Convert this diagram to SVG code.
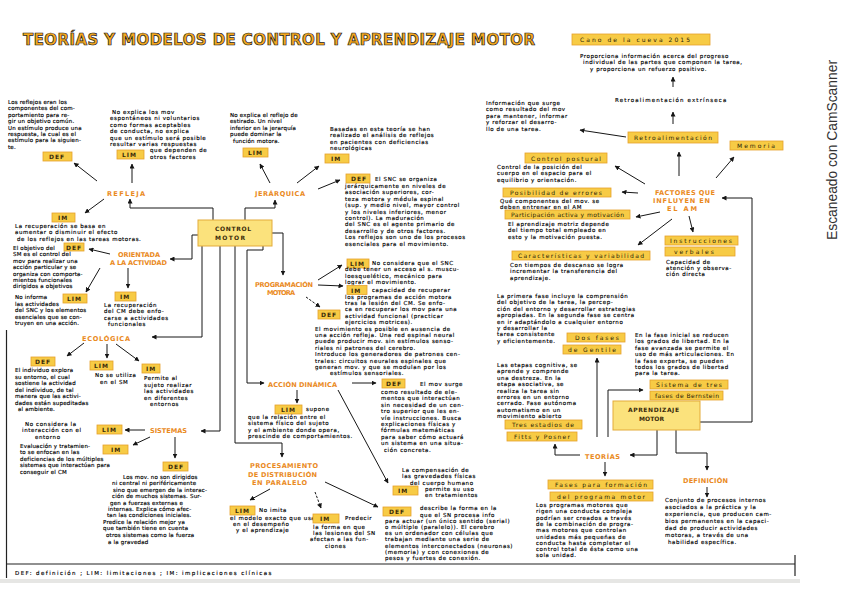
<svg xmlns="http://www.w3.org/2000/svg" width="848" height="599" viewBox="0 0 848 599">
<defs>
<style>
.t{font-family:"DejaVu Sans","Liberation Sans",sans-serif;font-size:5.5px;fill:#000;stroke:#000;stroke-width:0.15px;letter-spacing:0.6px}
.n{letter-spacing:0.2px}
.o{font-family:"DejaVu Sans","Liberation Sans",sans-serif;font-size:6.6px;font-weight:bold;fill:#ea8a1d}
.bx{fill:#f7cb45;stroke:#e5a12c;stroke-width:0.8}
.big{fill:#fbe27c;stroke:#e3ab3a;stroke-width:1}
.bl{font-family:"DejaVu Sans","Liberation Sans",sans-serif;font-size:6px;font-weight:bold;fill:#3a2a0a;letter-spacing:1px}
.bh{font-family:"DejaVu Sans","Liberation Sans",sans-serif;font-size:6px;fill:#2a1e08}
.c{stroke:#161616;stroke-width:1;fill:none;marker-end:url(#ah)}
.d{stroke-dasharray:2.5 1.5}
.fr{stroke:#222;stroke-width:1.2;fill:none}
</style>
<marker id="ah" markerWidth="5" markerHeight="5" refX="4.5" refY="2.5" orient="auto" markerUnits="userSpaceOnUse"><path d="M0,0 L5,2.5 L0,5 z" fill="#161616"/></marker>
</defs>
<rect x="0" y="0" width="848" height="599" fill="#ffffff"/>

<g id="frame">
<path class="fr" d="M6.5,330 V578"/>
<path class="fr" d="M7,564 H795"/>
<path class="fr" d="M795,555 V576"/>
<rect x="0" y="579" width="800" height="4" fill="#e6e6e4"/>
</g>

<g id="title"><text x="23" y="45" textLength="512" lengthAdjust="spacing" font-family="DejaVu Sans, Liberation Sans, sans-serif" font-size="15" font-weight="bold" fill="#f4a81f" stroke="#1a1a1a" stroke-width="0.7">TEORÍAS Y MODELOS DE CONTROL Y APRENDIZAJE MOTOR</text></g>

<g id="scanner"><text transform="translate(837,240) rotate(-90)" textLength="180" lengthAdjust="spacingAndGlyphs" font-family="Liberation Sans, Arial, sans-serif" font-size="14.5" fill="#333">Escaneado con CamScanner</text></g>

<g id="cano"><rect class="bx" x="572" y="34" width="138" height="11"/><text class="bh" x="580" y="42" textLength="110">Cano de la cueva 2015</text></g>

<g id="connectors">
<path class="c" d="M673,87 V77"/>
<path class="c" d="M673,124 V112"/>
<path class="c" d="M626,137 L580,130"/>
<path class="c" d="M679,176 V152"/>
<path class="c" d="M716,178 L734,157"/>
<path class="c" d="M645,184 L615,166"/>
<path class="c" d="M638,193 L622,192"/>
<path class="c" d="M660,212 L636,217"/>
<path class="c" d="M672,219 L638,245"/>
<path class="c" d="M689,216 L693,232"/>
<path class="c" d="M700,422 H752 V198 H722"/>
<path class="c" d="M657,430 V455 H630"/>
<path class="c" d="M676,430 V453 H707 V470"/>
<path class="c" d="M580,455 H555 V444"/>
<path class="c" d="M597,437 V358"/>
<path class="c" d="M608,437 V390 H643"/>
<path class="c" d="M605,462 V476"/>
<path class="c" d="M707,487 V497"/>

<path class="c" d="M213,220 V208 H130 V199"/>
<path class="c" d="M245,220 V208 H275 V200"/>
<path class="c" d="M198,235 H192 V259 H170"/>
<path class="c" d="M202,246 V337 H152"/>
<path class="c" d="M220,246 V431 H201"/>
<path class="c" d="M235,246 V443 H282 V457"/>
<path class="c" d="M263,246 V250 H247 V383 H264"/>
<path class="c" d="M272,233 H283 V275"/>

<path class="c" d="M97,181 L74,163"/>
<path class="c" d="M132,183 V164"/>
<path class="c" d="M104,199 L85,213"/>
<path class="c" d="M270,183 L260,164"/>
<path class="c" d="M297,183 L319,166"/>
<path class="c" d="M318,189 L340,180"/>
<path class="c" d="M110,254 L89,249"/>
<path class="c" d="M100,268 L86,292"/>
<path class="c" d="M128,268 V288"/>
<path class="c" d="M84,343 L67,356"/>
<path class="c" d="M107,344 V358"/>
<path class="c" d="M116,344 L139,361"/>
<path class="c" d="M145,430 H125"/>
<path class="c" d="M150,437 L133,445"/>
<path class="c" d="M175,437 V458"/>
<path class="c" d="M318,280 L342,265"/>
<path class="c" d="M318,285 L343,286"/>
<path class="c d" d="M306,297 L320,307"/>
<path class="c" d="M352,383 L376,383"/>
<path class="c" d="M297,390 V403"/>
<path class="c" d="M338,390 L388,483"/>
<path class="c" d="M270,489 L250,500"/>
<path class="c d" d="M315,492 L321,508"/>
<path class="c" d="M325,482 L378,507"/>
</g>

<g id="n-retro-desc"><text class="t"><tspan x="580" y="58">Proporciona información acerca del progreso</tspan><tspan x="583" y="64.4">individual de las partes que componen la tarea,</tspan><tspan x="590" y="70.8">y proporciona un refuerzo positivo.</tspan></text></g>
<g id="n-retro-ext"><text class="t" x="615" y="102" textLength="112">Retroalimentación extrínseca</text></g>
<g id="n-retro"><rect class="bx" x="628" y="132" width="90" height="11"/><text class="bh" x="634" y="140" textLength="78">Retroalimentación</text></g>
<g id="n-memoria"><rect class="bx" x="730" y="141" width="53" height="9"/><text class="bh" x="737" y="148" textLength="38">Memoria</text></g>
<g id="n-info"><text class="t"><tspan x="486" y="105">Información que surge</tspan><tspan x="486" y="111.4">como resultado del mov</tspan><tspan x="486" y="117.8">para mantener, informar</tspan><tspan x="486" y="124.2">y reforzar el desarro-</tspan><tspan x="486" y="130.6">llo de una tarea.</tspan></text></g>
<g id="n-factores"><text class="o" x="655" y="195" textLength="60">FACTORES QUE</text><text class="o" x="653" y="203" textLength="57">INFLUYEN EN</text><text class="o" x="667" y="211" textLength="30">EL AM</text></g>
<g id="n-postural"><rect class="bx" x="525" y="153" width="82" height="10"/><text class="bh" x="531" y="160.5" textLength="70">Control postural</text>
<text class="t"><tspan x="497" y="169">Control de la posición del</tspan><tspan x="497" y="175.4">cuerpo en el espacio para el</tspan><tspan x="497" y="181.8">equilibrio y orientación.</tspan></text></g>
<g id="n-errores"><rect class="bx" x="503" y="188" width="108" height="9"/><text class="bh" x="510" y="195" textLength="92">Posibilidad de errores</text>
<text class="t"><tspan x="500" y="203">Qué componentes del mov. se</tspan><tspan x="500" y="209">deben entrenar en el AM</tspan></text></g>
<g id="n-participacion"><rect class="bx" x="505" y="210" width="125" height="9"/><text class="bh" x="511" y="217" textLength="113">Participación activa y motivación</text>
<text class="t"><tspan x="508" y="226">El aprendizaje motriz depende</tspan><tspan x="508" y="232.4">del tiempo total empleado en</tspan><tspan x="508" y="238.8">esto y la motivación puesta.</tspan></text></g>
<g id="n-caracteristicas"><rect class="bx" x="512" y="251" width="138" height="9"/><text class="bh" x="518" y="258" textLength="126">Características y variabilidad</text>
<text class="t"><tspan x="510" y="267">Con tiempos de descanso se logra</tspan><tspan x="510" y="273.4">incrementar la transferencia del</tspan><tspan x="510" y="279.8">aprendizaje.</tspan></text></g>
<g id="n-instrucciones"><rect class="bx" x="665" y="236" width="73" height="9"/><text class="bh" x="670" y="243" textLength="62">Instrucciones</text><rect class="bx" x="665" y="247" width="70" height="9"/><text class="bh" x="674" y="254" textLength="40">verbales</text>
<text class="t"><tspan x="666" y="263.5">Capacidad de</tspan><tspan x="666" y="269.9">atención y observa-</tspan><tspan x="666" y="276.3">ción directa</tspan></text></g>

<g id="n-gentile"><text class="t"><tspan x="497" y="298">La primera fase incluye la comprensión</tspan><tspan x="497" y="304.4">del objetivo de la tarea, la percep-</tspan><tspan x="497" y="310.8">ción del entorno y desarrollar estrategias</tspan><tspan x="497" y="317.2">apropiadas. En la segunda fase se centra</tspan><tspan x="497" y="323.6">en ir adaptándolo a cualquier entorno</tspan><tspan x="497" y="330">y desarrollar la</tspan><tspan x="497" y="336.4">tarea consistente</tspan><tspan x="497" y="342.8">y eficientemente.</tspan></text>
<rect class="bx" x="567" y="333" width="58" height="9"/><text class="bh" x="575" y="340" textLength="44">Dos fases</text>
<rect class="bx" x="563" y="345" width="58" height="9"/><text class="bh" x="568" y="352" textLength="48">de Gentile</text></g>

<g id="n-bernstein"><text class="t"><tspan x="635" y="337">En la fase inicial se reducen</tspan><tspan x="635" y="343.4">los grados de libertad. En la</tspan><tspan x="635" y="349.8">fase avanzada se permite el</tspan><tspan x="635" y="356.2">uso de más articulaciones. En</tspan><tspan x="635" y="362.6">la fase experta, se pueden</tspan><tspan x="635" y="369">todos los grados de libertad</tspan><tspan x="635" y="375.4">para la tarea.</tspan></text>
<rect class="bx" x="650" y="380" width="78" height="9"/><text class="bh" x="656" y="387" textLength="66">Sistema de tres</text>
<rect class="bx" x="650" y="391" width="73" height="9"/><text class="bh" x="655" y="398" textLength="64">fases de Bernstein</text></g>

<g id="n-fitts"><text class="t"><tspan x="497" y="367">Las etapas cognitiva, se</tspan><tspan x="497" y="373.4">aprende y comprende</tspan><tspan x="497" y="379.8">una destreza. En la</tspan><tspan x="497" y="386.2">etapa asociativa, se</tspan><tspan x="497" y="392.6">realiza la tarea sin</tspan><tspan x="497" y="399">errores en un entorno</tspan><tspan x="497" y="405.4">cerrado. Fase autónoma</tspan><tspan x="497" y="411.8">automatismo en un</tspan><tspan x="497" y="418.2">movimiento abierto</tspan></text>
<rect class="bx" x="505" y="420" width="77" height="9"/><text class="bh" x="512" y="427" textLength="62">Tres estadios de</text>
<rect class="bx" x="507" y="432" width="70" height="9"/><text class="bh" x="514" y="439" textLength="56">Fitts y Posner</text></g>

<g id="n-teorias"><text class="o" x="585" y="458.5" textLength="35">TEORÍAS</text></g>
<g id="n-fases-programa"><rect class="bx" x="548" y="480" width="105" height="9"/><text class="bh" x="555" y="487" textLength="92">Fases para formación</text>
<rect class="bx" x="550" y="492" width="103" height="9"/><text class="bh" x="557" y="499" textLength="88">del programa motor</text>
<text class="t"><tspan x="536" y="507">Los programas motores que</tspan><tspan x="536" y="513.3">rigen una conducta compleja</tspan><tspan x="536" y="519.6">podrían ser creados a través</tspan><tspan x="536" y="525.9">de la combinación de progra-</tspan><tspan x="536" y="532.2">mas motores que controlan</tspan><tspan x="536" y="538.5">unidades más pequeñas de</tspan><tspan x="536" y="544.8">conducta hasta completar el</tspan><tspan x="536" y="551.1">control total de ésta como una</tspan><tspan x="536" y="557.4">sola unidad.</tspan></text></g>
<g id="n-definicion"><text class="o" x="683" y="482.5" textLength="45">DEFINICIÓN</text>
<text class="t"><tspan x="665" y="502">Conjunto de procesos internos</tspan><tspan x="665" y="509">asociados a la práctica y la</tspan><tspan x="665" y="516">experiencia, que producen cam-</tspan><tspan x="665" y="523">bios permanentes en la capaci-</tspan><tspan x="665" y="530">dad de producir actividades</tspan><tspan x="665" y="537">motoras, a través de una</tspan><tspan x="668" y="544">habilidad específica.</tspan></text></g>
<g id="n-aprendizaje"><rect class="big" x="613" y="401" width="87" height="29"/><text class="bl" x="628" y="412" textLength="52">APRENDIZAJE</text><text class="bl" x="639" y="421" textLength="26">MOTOR</text></g>

<g id="n-control"><rect class="big" x="198" y="220" width="74" height="26"/><text class="bl" x="215" y="231" textLength="37">CONTROL</text><text class="bl" x="215" y="240" textLength="31">MOTOR</text></g>

<g id="n-refleja"><text class="o" x="107" y="195.5" textLength="38">REFLEJA</text></g>
<g id="n-refleja-def"><text class="t n"><tspan x="8" y="104">Los reflejos eran los</tspan><tspan x="8" y="110.4">componentes del com-</tspan><tspan x="8" y="116.8">portamiento para re-</tspan><tspan x="8" y="123.2">gir un objetivo común.</tspan><tspan x="8" y="129.6">Un estímulo produce una</tspan><tspan x="8" y="136">respuesta, la cual es el</tspan><tspan x="8" y="142.4">estímulo para la siguien-</tspan><tspan x="8" y="148.8">te.</tspan></text>
<rect class="bx" x="43" y="152" width="29" height="9"/><text class="bl" x="49" y="159">DEF</text></g>
<g id="n-refleja-lim"><rect class="bx" x="117" y="150" width="27" height="9"/><text class="bl" x="122" y="157">LIM</text>
<text class="t"><tspan x="112" y="114">No explica los mov</tspan><tspan x="110" y="120.4">espontáneos ni voluntarios</tspan><tspan x="110" y="126.8">como formas aceptables</tspan><tspan x="110" y="133.2">de conducta, no explica</tspan><tspan x="110" y="139.6">que un estímulo será posible</tspan><tspan x="110" y="146">resultar varias respuestas</tspan><tspan x="150" y="152.4">que dependen de</tspan><tspan x="150" y="158.8">otros factores</tspan></text></g>
<g id="n-refleja-im"><rect class="bx" x="52" y="213" width="23" height="9"/><text class="bl" x="58" y="220">IM</text>
<text class="t"><tspan x="15" y="227.5">La recuperación se basa en</tspan><tspan x="15" y="234">aumentar o disminuir el efecto</tspan><tspan x="17" y="240.5">de los reflejos en las tareas motoras.</tspan></text></g>

<g id="n-orientada"><text class="o" x="118" y="256.5" textLength="42">ORIENTADA</text><text class="o" x="110" y="264.5" textLength="57">A LA ACTIVIDAD</text></g>
<g id="n-orientada-def"><rect class="bx" x="64" y="243" width="20" height="8"/><text class="bl" x="66" y="249.5" textLength="16">DEF</text>
<text class="t n"><tspan x="13" y="250">El objetivo del</tspan><tspan x="13" y="256.4">SM es el control del</tspan><tspan x="13" y="262.8">mov para realizar una</tspan><tspan x="13" y="269.2">acción particular y se</tspan><tspan x="13" y="275.6">organiza con comporta-</tspan><tspan x="13" y="282">mientos funcionales</tspan><tspan x="13" y="288.4">dirigidos a objetivos</tspan></text></g>
<g id="n-orientada-lim"><rect class="bx" x="63" y="294" width="24" height="9"/><text class="bl" x="67" y="301">LIM</text>
<text class="t n"><tspan x="15" y="299">No informa</tspan><tspan x="15" y="305.5">las actividades</tspan><tspan x="15" y="312">del SNC y los elementos</tspan><tspan x="15" y="318.5">esenciales que se con-</tspan><tspan x="15" y="325">truyen en una acción.</tspan></text></g>
<g id="n-orientada-im"><rect class="bx" x="115" y="292" width="21" height="9"/><text class="bl" x="120" y="299">IM</text>
<text class="t"><tspan x="104" y="307">La recuperación</tspan><tspan x="104" y="313.4">del CM debe enfo-</tspan><tspan x="104" y="319.8">carse a actividades</tspan><tspan x="108" y="326.2">funcionales</tspan></text></g>

<g id="n-ecologica"><text class="o" x="82" y="340.5" textLength="48">ECOLÓGICA</text></g>
<g id="n-ecologica-def"><rect class="bx" x="31" y="357" width="24" height="9"/><text class="bl" x="35" y="364">DEF</text>
<text class="t n"><tspan x="15" y="372">El individuo explora</tspan><tspan x="15" y="378.5">su entorno, el cual</tspan><tspan x="15" y="385">sostiene la actividad</tspan><tspan x="15" y="391.5">del individuo, de tal</tspan><tspan x="15" y="398">manera que las activi-</tspan><tspan x="15" y="404.5">dades están supeditadas</tspan><tspan x="18" y="411">al ambiente.</tspan></text></g>
<g id="n-ecologica-lim"><rect class="bx" x="90" y="361" width="23" height="9"/><text class="bl" x="94" y="368">LIM</text>
<text class="t"><tspan x="95" y="377">No se utiliza</tspan><tspan x="100" y="383.5">en el SM</tspan></text></g>
<g id="n-ecologica-im"><rect class="bx" x="142" y="364" width="18" height="9"/><text class="bl" x="146" y="371">IM</text>
<text class="t"><tspan x="144" y="380">Permite al</tspan><tspan x="144" y="386.5">sujeto realizar</tspan><tspan x="144" y="393">las actividades</tspan><tspan x="144" y="399.5">en diferentes</tspan><tspan x="150" y="406">entornos</tspan></text></g>

<g id="n-sistemas"><text class="o" x="150" y="432.5" textLength="37">SISTEMAS</text></g>
<g id="n-sistemas-lim"><rect class="bx" x="97" y="425" width="25" height="9"/><text class="bl" x="102" y="432">LIM</text>
<text class="t"><tspan x="25" y="426">No considera la</tspan><tspan x="22" y="432.4">interacción con el</tspan><tspan x="35" y="438.8">entorno</tspan></text></g>
<g id="n-sistemas-im"><rect class="bx" x="103" y="445" width="25" height="9"/><text class="bl" x="111" y="452">IM</text>
<text class="t n"><tspan x="20" y="448">Evaluación y tratamien-</tspan><tspan x="20" y="454.4">to se enfocan en las</tspan><tspan x="20" y="460.8">deficiencias de los múltiples</tspan><tspan x="20" y="467.2">sistemas que interactúan para</tspan><tspan x="20" y="473.6">conseguir el CM</tspan></text></g>
<g id="n-sistemas-def"><rect class="bx" x="163" y="462" width="25" height="9"/><text class="bl" x="168" y="469">DEF</text>
<text class="t n"><tspan x="123" y="479">Los mov. no son dirigidos</tspan><tspan x="112" y="485.4">ni central ni periféricamente</tspan><tspan x="113" y="491.8">sino que emergen de la interac-</tspan><tspan x="112" y="498.2">ción de muchos sistemas. Sur-</tspan><tspan x="110" y="504.6">gen a fuerzas externas e</tspan><tspan x="108" y="511">internas. Explica cómo afec-</tspan><tspan x="107" y="517.4">tan las condiciones iniciales.</tspan><tspan x="103" y="523.8">Predice la relación mejor ya</tspan><tspan x="103" y="530.2">que también tiene en cuenta</tspan><tspan x="106" y="536.6">otros sistemas como la fuerza</tspan><tspan x="108" y="544">a la gravedad</tspan></text></g>

<g id="n-jerarquica"><text class="o" x="255" y="195.5" textLength="50">JERÁRQUICA</text></g>
<g id="n-jerarquica-lim"><rect class="bx" x="243" y="148" width="25" height="9"/><text class="bl" x="248" y="155">LIM</text>
<text class="t n"><tspan x="230" y="117">No explica el reflejo de</tspan><tspan x="230" y="123.4">estirado. Un nivel</tspan><tspan x="230" y="129.8">inferior en la jerarquía</tspan><tspan x="230" y="136.2">puede dominar la</tspan><tspan x="233" y="142.6">función motora.</tspan></text></g>
<g id="n-jerarquica-im"><rect class="bx" x="325" y="154" width="24" height="9"/><text class="bl" x="331" y="161">IM</text>
<text class="t"><tspan x="330" y="131">Basadas en esta teoría se han</tspan><tspan x="330" y="137.4">realizado el análisis de reflejos</tspan><tspan x="330" y="143.8">en pacientes con deficiencias</tspan><tspan x="330" y="150.2">neurológicas</tspan></text></g>
<g id="n-jerarquica-def"><rect class="bx" x="346" y="174" width="24" height="9"/><text class="bl" x="351" y="181">DEF</text>
<text class="t"><tspan x="375" y="181">El SNC se organiza</tspan><tspan x="345" y="188">jerárquicamente en niveles de</tspan><tspan x="345" y="194.4">asociación superiores, cor-</tspan><tspan x="345" y="200.8">teza motora y médula espinal</tspan><tspan x="345" y="207.2">(sup. y medio nivel, mayor control</tspan><tspan x="345" y="213.6">y los niveles inferiores, menor</tspan><tspan x="345" y="220">control). La maduración</tspan><tspan x="345" y="226.4">del SNC es el agente primario de</tspan><tspan x="345" y="232.8">desarrollo y de otros factores.</tspan><tspan x="345" y="239.2">Los reflejos son uno de los procesos</tspan><tspan x="345" y="245.6">esenciales para el movimiento.</tspan></text></g>

<g id="n-programacion"><text class="o" x="255" y="286.5" textLength="58">PROGRAMACIÓN</text><text class="o" x="267" y="294.5" textLength="28">MOTORA</text></g>
<g id="n-programacion-lim"><rect class="bx" x="347" y="259" width="22" height="9"/><text class="bl" x="350" y="266">LIM</text>
<text class="t"><tspan x="372" y="265">No considera que el SNC</tspan><tspan x="345" y="271.4">debe tener un acceso al s. muscu-</tspan><tspan x="345" y="277.8">loesquelético, mecánico para</tspan><tspan x="345" y="284.2">lograr el movimiento.</tspan></text></g>
<g id="n-programacion-im"><rect class="bx" x="347" y="285.5" width="20" height="9"/><text class="bl" x="351" y="292.5">IM</text>
<text class="t"><tspan x="372" y="291.5">capacidad de recuperar</tspan><tspan x="345" y="299">los programas de acción motora</tspan><tspan x="345" y="305.2">tras la lesión del CM. Se enfo-</tspan><tspan x="345" y="311.4">ca en recuperar los mov para una</tspan><tspan x="345" y="317.6">actividad funcional (practicar</tspan><tspan x="345" y="323.8">ejercicios motrices).</tspan></text></g>
<g id="n-programacion-def"><rect class="bx" x="318" y="310" width="22" height="9"/><text class="bl" x="321" y="317">DEF</text>
<text class="t"><tspan x="315" y="330.5">El movimiento es posible en ausencia de</tspan><tspan x="315" y="336.9">una acción refleja. Una red espinal neural</tspan><tspan x="315" y="343.3">puede producir mov. sin estímulos senso-</tspan><tspan x="315" y="349.7">riales ni patrones del cerebro.</tspan><tspan x="315" y="356.1">Introduce los generadores de patrones cen-</tspan><tspan x="315" y="362.5">trales: circuitos neurales espinales que</tspan><tspan x="315" y="368.9">generan mov. y que se modulan por los</tspan><tspan x="330" y="375.3">estímulos sensoriales.</tspan></text></g>

<g id="n-accion"><text class="o" x="268" y="386.5" textLength="69">ACCIÓN DINÁMICA</text></g>
<g id="n-accion-def"><rect class="bx" x="382" y="379" width="23" height="9"/><text class="bl" x="386" y="386">DEF</text>
<text class="t"><tspan x="420" y="386">El mov surge</tspan><tspan x="381" y="394">como resultado de ele-</tspan><tspan x="381" y="400.4">mentos que interactúan</tspan><tspan x="381" y="406.8">sin necesidad de un cen-</tspan><tspan x="381" y="413.2">tro superior que les en-</tspan><tspan x="381" y="419.6">víe instrucciones. Busca</tspan><tspan x="381" y="426">explicaciones físicas y</tspan><tspan x="381" y="432.4">fórmulas matemáticas</tspan><tspan x="381" y="438.8">para saber cómo actuará</tspan><tspan x="381" y="445.2">un sistema en una situa-</tspan><tspan x="384" y="451.6">ción concreta.</tspan></text></g>
<g id="n-accion-lim"><rect class="bx" x="275" y="405" width="27" height="9"/><text class="bl" x="281" y="412">LIM</text>
<text class="t"><tspan x="306" y="411">supone</tspan><tspan x="248" y="419">que la relación entre el</tspan><tspan x="248" y="425.4">sistema físico del sujeto</tspan><tspan x="248" y="431.8">y el ambiente donde opera,</tspan><tspan x="248" y="438.2">prescinde de comportamientos.</tspan></text></g>
<g id="n-accion-im"><text class="t"><tspan x="402" y="472">La compensación de</tspan><tspan x="402" y="478.4">las gravedades físicas</tspan><tspan x="410" y="484.8">del cuerpo humano</tspan></text>
<rect class="bx" x="393" y="486" width="25" height="9"/><text class="bl" x="398" y="493">IM</text>
<text class="t"><tspan x="425" y="490.8">permite su uso</tspan><tspan x="425" y="497.2">en tratamientos</tspan></text></g>

<g id="n-procesamiento"><text class="o" x="250" y="467.5" textLength="68">PROCESAMIENTO</text><text class="o" x="248" y="476.5" textLength="69">DE DISTRIBUCIÓN</text><text class="o" x="252" y="484.5" textLength="55">EN PARALELO</text></g>
<g id="n-procesamiento-lim"><rect class="bx" x="230" y="506" width="25" height="9"/><text class="bl" x="235" y="513">LIM</text>
<text class="t"><tspan x="259" y="512">No imita</tspan><tspan x="230" y="519.5">el modelo exacto que usa</tspan><tspan x="233" y="525.9">en el desempeño</tspan><tspan x="236" y="532.3">y el aprendizaje</tspan></text></g>
<g id="n-procesamiento-im"><rect class="bx" x="313" y="514" width="26" height="9"/><text class="bl" x="320" y="521">IM</text>
<text class="t"><tspan x="345" y="520">Predecir</tspan><tspan x="313" y="528.5">la forma en que</tspan><tspan x="313" y="534.9">las lesiones del SN</tspan><tspan x="310" y="541.3">afectan a las fun-</tspan><tspan x="325" y="547.7">ciones</tspan></text></g>
<g id="n-procesamiento-def"><rect class="bx" x="383" y="507" width="28" height="9"/><text class="bl" x="389" y="514">DEF</text>
<text class="t"><tspan x="420" y="510.3">describe la forma en la</tspan><tspan x="420" y="516.5">que el SN procesa info</tspan><tspan x="385" y="522.7">para actuar (un único sentido (serial)</tspan><tspan x="385" y="528.9">o múltiple (paralelo)). El cerebro</tspan><tspan x="385" y="535.1">es un ordenador con células que</tspan><tspan x="385" y="541.3">trabajan mediante una serie de</tspan><tspan x="385" y="547.5">elementos interconectados (neuronas)</tspan><tspan x="385" y="553.7">(memoria) y con conexiones de</tspan><tspan x="385" y="559.9">pesos y fuertes de conexión.</tspan></text></g>

<g id="legend"><text class="t" x="15" y="575" textLength="257">DEF: definición ; LIM: limitaciones ; IM: implicaciones clínicas</text></g>
</svg>
